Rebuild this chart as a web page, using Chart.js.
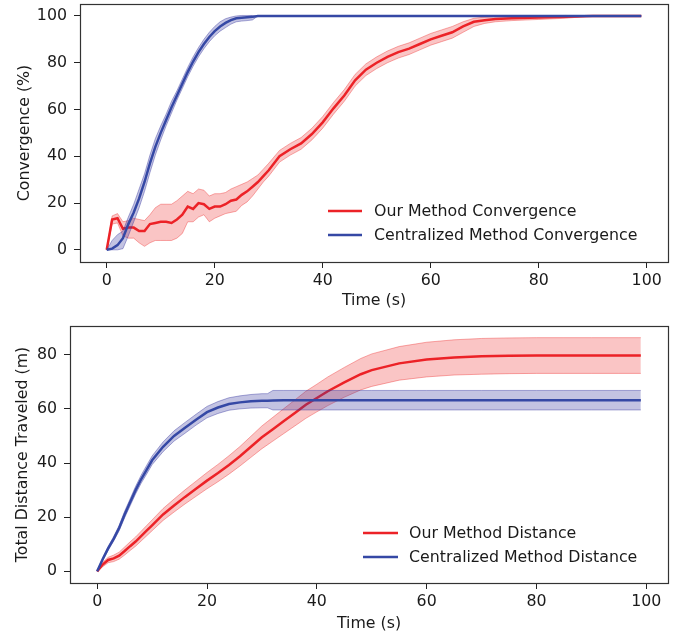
<!DOCTYPE html>
<html>
<head>
<meta charset="utf-8">
<script src="https://cdn.jsdelivr.net/npm/chart.js@4"></script>
<style>
  body { margin: 0; background: #fff; }
  #topBox { position: absolute; left: 0; top: 0; width: 686px; height: 310px; }
  #bottomBox { position: absolute; left: 0; top: 310px; width: 686px; height: 326px; }
</style>
</head>
<body>
<div id="topBox"><canvas id="convChart"></canvas></div>
<div id="bottomBox"><canvas id="distChart"></canvas></div>
<script>
// ---- data ----
const timeTicks = [0, 20, 40, 60, 80, 100];
const convTicks = [0, 20, 40, 60, 80, 100];
const distTicks = [0, 20, 40, 60, 80];

// top panel: convergence (%)
const convTime = [0,1,2,3,4,5,6,7,8,9,10,11,12,13,14,15,16,17,18,19,20,21,22,23,24,25,26,27,28,29,30,
  32,34,36,38,40,42,44,46,48,50,52,54,56,58,60,62,64,66,68,70,72,75,80,85,90,95,99];
const ourConvMean = [0,13,13.5,9,9.5,9.5,8,8,11,11.5,12,12,11.5,13,15,18.5,17.5,20,19.5,17.5,
  18.5,18.5,19.5,21,21.5,23.5,25,27,29,31.5,34,
  40,43,45.5,49.5,54.5,60.5,66,72.5,77,80,82.5,84.5,86,88,90,91.5,93,95.5,97.5,98.2,
  98.7,99,99.3,99.6,100,100,100];
const ourConvLower = [0,11,11.5,6,5,5,3,1.5,3,4,4,4,4,5,7,12,12,14,15,12,
  13.5,14.5,15.5,16,16.5,19,20.5,23,26,29,31.5,
  37.5,40.5,43,47,52,58,63.5,70,74.5,77.5,80,82,83.5,85.5,87.5,89,90.5,93,95.5,96.8,
  97.5,98,98.5,99,100,100,100];
const ourConvUpper = [0,14.5,15.5,12,12.5,13.5,13,12.5,15,18,19.5,19.5,19.5,21,23,25,24,26,25.5,23,
  24,24,24.5,26,27,28,29,30.5,32,34.5,37,
  42.5,45.5,48,52,57,63,68.5,75,79.5,82.5,85,87,88.5,90.5,92.5,94,95.5,97.5,99,99.5,
  99.8,100,100,100.2,100,100,100];
const cenConvMean = [0,0.5,2,5,11,16,22,29,37,44,50,55.5,61,66,71,76,80.5,84.5,88,91,
  93.5,95.5,97,98.2,99,99.2,99.4,99.6,100,100,100,
  100,100,100,100,100,100,100,100,100,100,100,100,100,100,100,100,100,100,100,100,
  100,100,100,100,100,100,100];
const cenConvLower = [0,0,0,0.5,6,12,18,25,33,40.5,47,53,58.5,64,69,74,78.5,82.5,86,89,
  91.5,93.5,95,96.5,97.5,97.8,98,98.3,100,100,100,
  100,100,100,100,100,100,100,100,100,100,100,100,100,100,100,100,100,100,100,100,
  100,100,100,100,100,100,100];
const cenConvUpper = [0,4,6.5,8,14,19.5,26,32.5,40.5,47.5,53,58,63.5,68,73,78,82.5,86.5,90,93,
  95.5,97.5,98.8,99.5,100,100.2,100.2,100.2,100,100,100,
  100,100,100,100,100,100,100,100,100,100,100,100,100,100,100,100,100,100,100,100,
  100,100,100,100,100,100,100];

// bottom panel: total distance traveled (m)
const distTime = [0,1,2,3,4,5,6,7,8,9,10,12,14,16,18,20,22,24,26,28,30,
  31,32,34,36,38,40,42,45,48,50,55,60,65,70,75,80,85,90,95,99];
const ourDistMean = [0,2.5,4.2,4.8,5.8,7.5,9.3,11,13,15,17,21,24.3,27.5,30.5,33.5,36.3,39.3,42.5,46,49.5,
  51,52.5,55.5,58.5,61.5,64,66.5,69.8,72.8,74.3,76.8,78.2,79,79.4,79.6,79.7,79.7,79.7,79.7,79.7];
const ourDistLower = [0,1.7,3.2,3.6,4.5,6,7.7,9.3,11.2,13.1,15,18.8,21.9,24.9,27.7,30.5,33.1,35.9,38.9,42.1,45.3,
  46.7,48.1,50.9,53.7,56.5,58.9,61.2,64.3,67,68.3,70.6,71.8,72.5,72.8,73,73.1,73.1,73.1,73.1,73.1];
const ourDistUpper = [0,3.3,5.2,6,7.1,9,10.9,12.7,14.8,16.9,19,23.2,26.7,30.1,33.3,36.5,39.5,42.7,46.1,49.9,53.7,
  55.3,56.9,60.1,63.3,66.5,69.1,71.8,75.3,78.6,80.3,83,84.6,85.5,86,86.2,86.3,86.3,86.3,86.3,86.3];
const cenDistMean = [0,4.5,8.5,12,16,21,25.5,30,34,37.5,41,46,50,53,56,58.8,60.5,61.8,62.4,62.8,63,
  63,63.1,63.2,63.2,63.2,63.2,63.2,63.2,63.2,63.2,63.2,63.2,63.2,63.2,63.2,63.2,63.2,63.2,63.2,63.2];
const cenDistLower = [0,4,7.8,11.2,15,19.8,24.2,28.6,32.5,35.9,39.4,44.2,48.1,51,54,56.7,58.3,59.5,60,60.3,60.4,
  60.4,59.6,59.6,59.6,59.6,59.6,59.6,59.6,59.6,59.6,59.6,59.6,59.6,59.6,59.6,59.6,59.6,59.6,59.6,59.6];
const cenDistUpper = [0,5,9.2,12.8,17,22.2,26.8,31.4,35.5,39.1,42.6,47.8,51.9,55,58,60.9,62.7,64.1,64.8,65.3,65.6,
  65.6,66.8,66.8,66.8,66.8,66.8,66.8,66.8,66.8,66.8,66.8,66.8,66.8,66.8,66.8,66.8,66.8,66.8,66.8,66.8];

// ---- styling ----
const FONT = "'DejaVu Sans', sans-serif";
const FONT_SIZE = 15.8;
const TEXT = '#1a1a1a';
const RED = '#ec2227';
const BLUE = '#3548a5';
const RED_FILL = 'rgba(236, 40, 40, 0.27)';
const RED_EDGE = 'rgba(236, 40, 40, 0.38)';
const BLUE_FILL = 'rgba(55, 55, 160, 0.3)';
const BLUE_EDGE = 'rgba(55, 55, 160, 0.42)';

function points(t, ys) {
  return t.map((x, i) => ({ x: x, y: ys[i] }));
}

// lower edge, upper edge filled to it, then the mean line
function bandSeries(label, t, mean, lower, upper, color, fill, edge, order) {
  return [
    { label: label + ' low', data: points(t, lower), borderColor: edge, borderWidth: 1,
      pointRadius: 0, fill: false, order: order + 2 },
    { label: label + ' high', data: points(t, upper), borderColor: edge, borderWidth: 1,
      pointRadius: 0, fill: '-1', backgroundColor: fill, order: order + 1 },
    { label: label, data: points(t, mean), borderColor: color, borderWidth: 2.5,
      pointRadius: 0, fill: false, order: order }
  ];
}

// box around the plot area, like matplotlib spines
const framePlugin = {
  id: 'frame',
  afterDraw(chart) {
    const a = chart.chartArea, ctx = chart.ctx;
    ctx.save();
    ctx.strokeStyle = '#333';
    ctx.lineWidth = 1.2;
    ctx.strokeRect(Math.round(a.left) + 0.5, Math.round(a.top) + 0.5,
      Math.round(a.right - a.left), Math.round(a.bottom - a.top));
    ctx.restore();
  }
};

// legend drawn inside the axes
const insetLegend = {
  id: 'insetLegend',
  afterDraw(chart, args, opts) {
    const ctx = chart.ctx;
    ctx.save();
    ctx.font = FONT_SIZE + 'px ' + FONT;
    ctx.textBaseline = 'middle';
    opts.items.forEach((it, i) => {
      const y = opts.rows[i];
      ctx.strokeStyle = it.color;
      ctx.lineWidth = 2.5;
      ctx.beginPath();
      ctx.moveTo(opts.lineX, y);
      ctx.lineTo(opts.lineX + opts.lineLen, y);
      ctx.stroke();
      ctx.fillStyle = TEXT;
      ctx.fillText(it.label, opts.textX, y + 1);
    });
    ctx.restore();
  }
};

function axisY(min, max, ticks, title, width, titlePad) {
  return {
    type: 'linear', min: min, max: max,
    afterBuildTicks: ax => { ax.ticks = ticks.map(v => ({ value: v })); },
    afterFit: ax => {
      ax.width = width;
      ax.paddingTop = 0; ax.paddingBottom = 0; ax.paddingLeft = 0; ax.paddingRight = 0;
    },
    grid: { drawOnChartArea: false, drawTicks: true, tickLength: 6, color: '#222', lineWidth: 1 },
    border: { display: false },
    ticks: { padding: 7, color: TEXT, font: { family: FONT, size: FONT_SIZE } },
    title: { display: true, text: title, color: TEXT, font: { family: FONT, size: FONT_SIZE },
      padding: { top: titlePad, bottom: 0 } }
  };
}

function axisX(height, tickPad, titlePad) {
  return {
    type: 'linear', min: -4.95, max: 103.95,
    afterBuildTicks: ax => { ax.ticks = timeTicks.map(v => ({ value: v })); },
    afterFit: ax => {
      ax.height = height;
      ax.paddingTop = 0; ax.paddingBottom = 0; ax.paddingLeft = 0; ax.paddingRight = 0;
    },
    grid: { drawOnChartArea: false, drawTicks: true, tickLength: 6, color: '#222', lineWidth: 1 },
    border: { display: false },
    ticks: { padding: tickPad, color: TEXT, font: { family: FONT, size: FONT_SIZE } },
    title: { display: true, text: 'Time (s)', color: TEXT, font: { family: FONT, size: FONT_SIZE },
      padding: { top: 0, bottom: titlePad } }
  };
}

function makeChart(id, datasets, scales, padding, legend) {
  return new Chart(document.getElementById(id), {
    type: 'line',
    data: { datasets: datasets },
    options: {
      responsive: true,
      maintainAspectRatio: false,
      animation: false,
      devicePixelRatio: 1,
      layout: { padding: padding },
      elements: { line: { tension: 0 } },
      plugins: { legend: { display: false }, tooltip: { enabled: false }, insetLegend: legend },
      scales: scales
    },
    plugins: [framePlugin, insetLegend]
  });
}

makeChart('convChart',
  [].concat(
    bandSeries('Our Method Convergence', convTime, ourConvMean, ourConvLower, ourConvUpper, RED, RED_FILL, RED_EDGE, 3),
    bandSeries('Centralized Method Convergence', convTime, cenConvMean, cenConvLower, cenConvUpper, BLUE, BLUE_FILL, BLUE_EDGE, 0)
  ),
  { x: axisX(48, 3, 0), y: axisY(-5.2, 105.1, convTicks, 'Convergence (%)', 80, 15) },
  { left: 0, right: 18, top: 4, bottom: 0 },
  { lineX: 328, lineLen: 34, textX: 374, rows: [211, 235],
    items: [{ label: 'Our Method Convergence', color: RED },
            { label: 'Centralized Method Convergence', color: BLUE }] }
);

makeChart('distChart',
  [].concat(
    bandSeries('Our Method Distance', distTime, ourDistMean, ourDistLower, ourDistUpper, RED, RED_FILL, RED_EDGE, 3),
    bandSeries('Centralized Method Distance', distTime, cenDistMean, cenDistLower, cenDistUpper, BLUE, BLUE_FILL, BLUE_EDGE, 0)
  ),
  { x: axisX(53, 3, 3), y: axisY(-4.3, 90.6, distTicks, 'Total Distance Traveled (m)', 70, 13) },
  { left: 0, right: 18, top: 16, bottom: 0 },
  { lineX: 363, lineLen: 35, textX: 409, rows: [223, 247],
    items: [{ label: 'Our Method Distance', color: RED },
            { label: 'Centralized Method Distance', color: BLUE }] }
);
</script>
</body>
</html>
